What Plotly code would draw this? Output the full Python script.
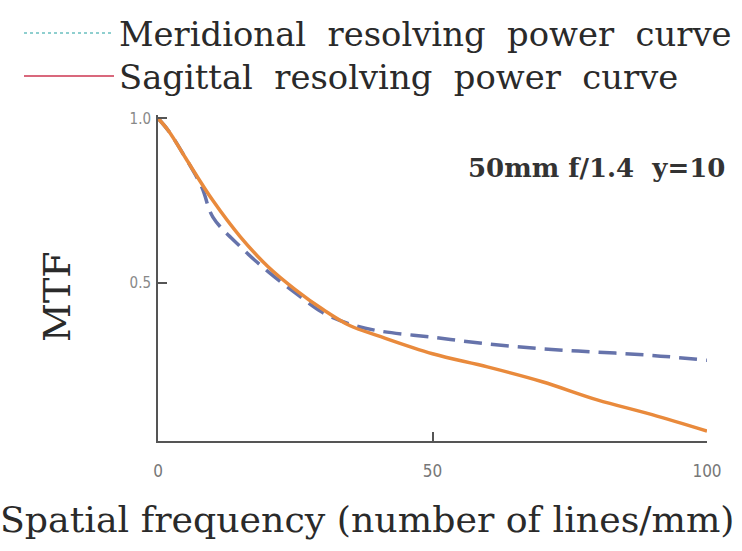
import plotly.graph_objects as go

# Data
freq_sag = [0, 2, 5, 10, 15, 20, 25, 30, 35, 40, 50, 60, 70, 80, 90, 100]
mtf_sag = [1.0, 0.96, 0.88, 0.75, 0.64, 0.55, 0.48, 0.42, 0.37, 0.34, 0.285, 0.245, 0.20, 0.145, 0.10, 0.05]

freq_mer = [0, 2, 5, 8, 10, 15, 20, 25, 30, 35, 40, 50, 60, 70, 80, 90, 100]
mtf_mer = [1.0, 0.96, 0.88, 0.79, 0.70, 0.61, 0.535, 0.47, 0.41, 0.375, 0.355, 0.335, 0.315, 0.30, 0.29, 0.28, 0.265]

x_ticks = [0, 50, 100]
x_ticklabels = ["0", "50", "100"]
y_ticks = [0.5, 1.0]
y_ticklabels = ["0.5", "1.0"]

legend_names = ["Meridional  resolving  power  curve", "Sagittal  resolving  power  curve"]

SERIF = "DejaVu Serif, serif"
SMALL = "DejaVu Sans Condensed, DejaVu Sans, sans-serif"

fig = go.Figure()

# plotted curves (no legend)
fig.add_trace(go.Scatter(x=freq_mer, y=mtf_mer, mode="lines",
                         line=dict(color="#6673ab", width=3.5, dash="18px,9px", shape="spline"),
                         showlegend=False))
fig.add_trace(go.Scatter(x=freq_sag, y=mtf_sag, mode="lines",
                         line=dict(color="#e98a3c", width=3.5, shape="spline"),
                         showlegend=False))

# legend entries (styled as in the reference legend)
fig.add_trace(go.Scatter(x=[None], y=[None], mode="lines", name=legend_names[0],
                         line=dict(color="#8fcfcf", width=2, dash="dot"), legend="legend"))
fig.add_trace(go.Scatter(x=[None], y=[None], mode="lines", name=legend_names[1],
                         line=dict(color="#d9687c", width=2), legend="legend2"))

H = 551 - 115 - 110
W = 742 - 158 - 35
def px_x(p):
    return (p - 158) / W
def px_y(p):
    return (441 - p) / H

leg_common = dict(xanchor="left", yanchor="middle",
                  font=dict(family=SERIF, size=33.8, color="#2a2a2a"),
                  itemwidth=90, bgcolor="rgba(0,0,0,0)")

fig.update_layout(
    width=742, height=551,
    margin=dict(l=158, r=35, t=115, b=110, autoexpand=False),
    paper_bgcolor="white", plot_bgcolor="white",
    showlegend=True,
    legend=dict(x=px_x(19), y=px_y(33), **leg_common),
    legend2=dict(x=px_x(19), y=px_y(76), **leg_common),
    xaxis=dict(range=[0, 100], tickvals=x_ticks, ticktext=x_ticklabels,
               ticks="inside", ticklen=9, tickwidth=1.5, tickcolor="#555",
               showline=True, linecolor="#555", linewidth=2, showgrid=False, zeroline=False,
               ticklabelstandoff=14,
               tickfont=dict(family=SMALL, size=17, color="#777")),
    yaxis=dict(range=[0.02, 1.01], tickvals=y_ticks, ticktext=y_ticklabels,
               ticks="inside", ticklen=9, tickwidth=1.5, tickcolor="#555",
               showline=True, linecolor="#555", linewidth=2, showgrid=False, zeroline=False,
               ticklabelstandoff=2,
               tickfont=dict(family=SMALL, size=15, color="#888")),
)

fig.add_annotation(text="MTF", xref="paper", yref="paper", x=px_x(57), y=px_y(297),
                   xanchor="center", yanchor="middle",
                   textangle=-90, showarrow=False,
                   font=dict(family=SERIF, size=38, color="#2a2a2a"))
fig.add_annotation(text="<b>50mm f/1.4  y=10</b>", xref="paper", yref="paper",
                   x=px_x(727), y=px_y(168),
                   xanchor="right", yanchor="middle", showarrow=False,
                   font=dict(family=SERIF, size=26, color="#333"))
fig.add_annotation(text="Spatial frequency (number of lines/mm)", xref="paper", yref="paper",
                   x=px_x(737), y=px_y(519), xanchor="right", yanchor="middle", showarrow=False,
                   font=dict(family=SERIF, size=36.3, color="#2a2a2a"))

fig.write_html("out.html")
